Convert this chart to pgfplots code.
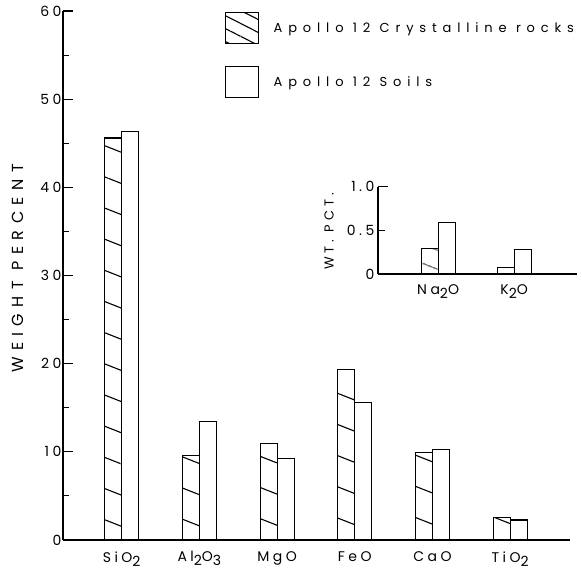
\documentclass[border=0pt]{standalone}
\usepackage{fontspec}
\setmainfont{Poppins}
\newfontfamily\fonttick{Poppins}[LetterSpace=25]
\newfontfamily\fontleg{Poppins}[LetterSpace=45]
\newfontfamily\fontylab{Poppins}[LetterSpace=40]
\newfontfamily\fontwt{Poppins}[LetterSpace=30]
\usepackage{pgfplots}
\pgfplotsset{compat=1.18}
\usetikzlibrary{patterns.meta}
\newcommand{\sub}[1]{\raisebox{-4pt}{#1}}
\begin{document}
\begin{tikzpicture}
\path[use as bounding box] (0pt,0pt) rectangle (582pt,572pt);
\begin{axis}[
  at={(63pt,32pt)}, anchor=south west,
  scale only axis, width=507pt, height=529pt,
  xmin=-0.755, xmax=5.77, ymin=0, ymax=60,
  axis x line*=bottom, axis y line*=left,
  axis line style={line width=1.1pt, -},
  ytick={0,10,...,60}, minor ytick={5,15,...,55},
  tick align=inside, major tick length=10pt, minor tick length=6pt,
  tick style={line width=1.1pt, black},
  xtick={0,...,5},
  xticklabels={SiO\sub{2}, Al\sub{2}O\sub{3}, MgO, FeO, CaO, TiO\sub{2}},
  xtick style={draw=none},
  /pgf/number format/assume math mode=true,
  every tick label/.append style={font=\fonttick\fontsize{14}{14}\selectfont},
  xticklabel style={yshift=2pt},
  yticklabel style={xshift=2pt},
  ylabel={WEIGHT PERCENT},
  ylabel style={font=\fontylab\fontsize{16}{16}\selectfont, at={(axis description cs:-0.0888,0.513)}, anchor=center},
  ybar=0pt, bar width=17pt,
  legend style={at={(axis description cs:0.3195,0.998)}, anchor=north west, draw=none, fill=none, inner sep=0pt, row sep=22pt, font=\fontleg\fontsize{13}{13}\selectfont, cells={anchor=west}},
  legend cell align=left,
]
\addlegendimage{legend image code/.code={\draw[line width=1.1pt, pattern={Lines[angle=-27,distance=11.5pt,line width=1.1pt]}] (0pt,-15.5pt) rectangle (33pt,15.5pt); \path[draw=none,fill=none] (0pt,0pt) -- (46pt,0pt);}}
\addlegendentry{Apollo 12 Crystalline rocks}
\addlegendimage{legend image code/.code={\draw[line width=1.1pt] (0pt,-15.5pt) rectangle (33pt,15.5pt); \path[draw=none,fill=none] (0pt,0pt) -- (46pt,0pt);}}
\addlegendentry{Apollo 12 Soils}
\addplot[forget plot, bar shift=-8.5pt, draw=black, line width=1.1pt, pattern={Lines[angle=-21.5,distance=29pt,line width=1.1pt]}]
  coordinates {(0,45.6) (1,9.56) (2,10.9) (3,19.35) (4,9.94) (5,2.57)};
\addplot[forget plot, bar shift=8.5pt, draw=black, fill=white, line width=1.1pt]
  coordinates {(0,46.3) (1,13.4) (2,9.26) (3,15.6) (4,10.28) (5,2.27)};
\end{axis}
\begin{axis}[
  at={(378pt,298pt)}, anchor=south west,
  scale only axis, width=199pt, height=87.3pt,
  xmin=-0.79, xmax=1.825, ymin=0, ymax=1,
  axis x line*=bottom, axis y line*=left,
  axis line style={line width=1.1pt, -},
  ytick={0,1}, yticklabels={0,1.0},
  extra y ticks={0.5}, extra y tick labels={0.5},
  extra y tick style={major tick length=7pt},
  tick align=inside, major tick length=10pt,
  tick style={line width=1.1pt, black},
  xtick={0,1},
  xticklabels={Na\sub{2}O, K\sub{2}O},
  xtick style={draw=none},
  /pgf/number format/assume math mode=true,
  every tick label/.append style={font=\fonttick\fontsize{14}{14}\selectfont},
  xticklabel style={yshift=3pt},
  ylabel={WT. PCT.},
  ylabel style={font=\fontwt\fontsize{13}{13}\selectfont, at={(axis description cs:-0.246,0.487)}, anchor=center},
  ybar=0pt, bar width=17pt,
]
\addplot[bar shift=-8.5pt, draw=black, line width=1.1pt, pattern={Lines[angle=-21.5,distance=17pt,line width=1.1pt]}]
  coordinates {(0,0.29) (1,0.072)};
\addplot[bar shift=8.5pt, draw=black, fill=white, line width=1.1pt]
  coordinates {(0,0.59) (1,0.28)};
\end{axis}
\end{tikzpicture}
\end{document}
